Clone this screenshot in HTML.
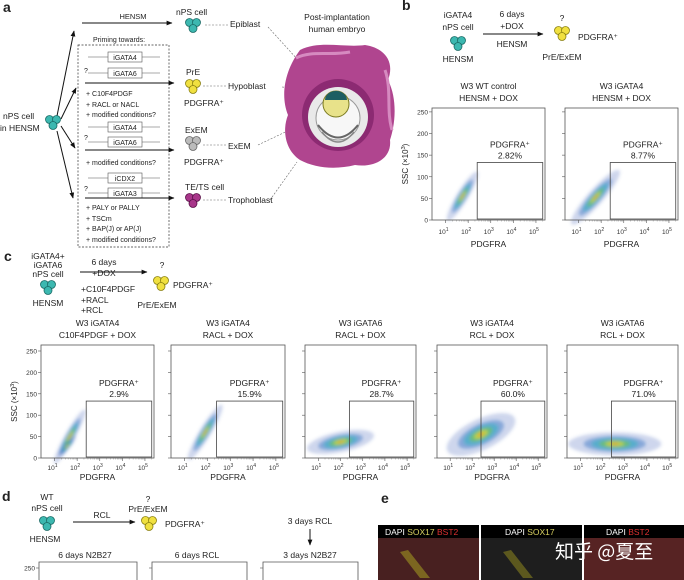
<!DOCTYPE html>
<html><head><meta charset="utf-8"><style>
html,body{margin:0;padding:0;background:#fff;overflow:hidden;width:684px;height:580px;}
svg{display:block;font-family:"Liberation Sans","Noto Sans CJK SC",sans-serif;}
</style></head><body>
<svg id="fig" width="684" height="580" viewBox="0 0 684 580" xmlns="http://www.w3.org/2000/svg">
<defs>
<marker id="ah" viewBox="0 0 10 10" refX="9" refY="5" markerWidth="6" markerHeight="6" orient="auto"><path d="M0,1 L10,5 L0,9 z" fill="#111"/></marker>
<filter id="blur" x="-50%" y="-50%" width="200%" height="200%"><feGaussianBlur stdDeviation="1.6"/></filter>
</defs>

<!-- PANEL A -->
<g font-size="8.5" fill="#222">
<text x="3" y="12" font-size="14" font-weight="bold">a</text>
<text x="133" y="19" text-anchor="middle" font-size="7.5">HENSM</text>
<line x1="82" y1="23" x2="172" y2="23" stroke="#111" marker-end="url(#ah)"/>
<text x="176" y="15">nPS cell</text>
<text x="3" y="119">nPS cell</text>
<text x="0" y="131">in HENSM</text>
<g stroke="#111" marker-end="url(#ah)">
<line x1="57" y1="116" x2="74" y2="31"/><line x1="61" y1="119" x2="76" y2="88"/><line x1="61" y1="126" x2="75" y2="148"/><line x1="57" y1="131" x2="73" y2="198"/>
</g>
<rect x="78" y="45" width="91" height="202" fill="none" stroke="#333" stroke-dasharray="2,1.5" stroke-width="0.7"/>
<text x="93" y="42" font-size="7">Priming towards:</text>
<g font-size="7" stroke-width="0.6">
<g><line x1="88" y1="57" x2="160" y2="57" stroke="#555"/><rect x="108" y="52" width="34" height="10" fill="#fff" stroke="#555"/><text x="125" y="60" text-anchor="middle">iGATA4</text></g>
<g><text x="84" y="73">?</text><line x1="88" y1="73" x2="160" y2="73" stroke="#555"/><rect x="108" y="68" width="34" height="10" fill="#fff" stroke="#555"/><text x="125" y="76" text-anchor="middle">iGATA6</text></g>
<line x1="85" y1="83" x2="174" y2="83" stroke="#111" stroke-width="1" marker-end="url(#ah)"/>
<text x="86" y="96">+ C10F4PDGF</text><text x="86" y="107">+ RACL or NACL</text><text x="86" y="117">+ modified conditions?</text>
<g><line x1="88" y1="127" x2="160" y2="127" stroke="#555"/><rect x="108" y="122" width="34" height="10" fill="#fff" stroke="#555"/><text x="125" y="130" text-anchor="middle">iGATA4</text></g>
<g><text x="84" y="140">?</text><line x1="88" y1="142" x2="160" y2="142" stroke="#555"/><rect x="108" y="137" width="34" height="10" fill="#fff" stroke="#555"/><text x="125" y="145" text-anchor="middle">iGATA6</text></g>
<line x1="85" y1="150" x2="174" y2="150" stroke="#111" stroke-width="1" marker-end="url(#ah)"/>
<text x="86" y="165">+ modified conditions?</text>
<g><line x1="88" y1="178" x2="160" y2="178" stroke="#555"/><rect x="108" y="173" width="34" height="10" fill="#fff" stroke="#555"/><text x="125" y="181" text-anchor="middle">iCDX2</text></g>
<g><text x="84" y="191">?</text><line x1="88" y1="193" x2="160" y2="193" stroke="#555"/><rect x="108" y="188" width="34" height="10" fill="#fff" stroke="#555"/><text x="125" y="196" text-anchor="middle">iGATA3</text></g>
<line x1="85" y1="198" x2="174" y2="198" stroke="#111" stroke-width="1" marker-end="url(#ah)"/>
<text x="86" y="210">+ PALY or PALLY</text><text x="86" y="221">+ TSCm</text><text x="86" y="231">+ BAP(J) or AP(J)</text><text x="86" y="242">+ modified conditions?</text>
</g>
<text x="186" y="75">PrE</text>
<text x="184" y="106">PDGFRA⁺</text>
<text x="185" y="133">ExEM</text>
<text x="184" y="165">PDGFRA⁺</text>
<text x="185" y="190">TE/TS cell</text>
<g stroke="#666" stroke-dasharray="2,1.5" stroke-width="0.6">
<line x1="205" y1="25" x2="228" y2="25"/><line x1="203" y1="86" x2="226" y2="86"/><line x1="203" y1="145" x2="226" y2="145"/><line x1="203" y1="200" x2="226" y2="200"/>
<line x1="268" y1="27" x2="298" y2="60"/><line x1="282" y1="87" x2="322" y2="90"/><line x1="258" y1="145" x2="300" y2="125"/><line x1="270" y1="200" x2="297" y2="162"/>
</g>
<text x="230" y="27">Epiblast</text>
<text x="228" y="89">Hypoblast</text>
<text x="228" y="149">ExEM</text>
<text x="228" y="203">Trophoblast</text>
<text x="337" y="20" text-anchor="middle">Post-implantation</text>
<text x="337" y="32" text-anchor="middle">human embryo</text>
<g>
<path d="M300,50 C320,40 345,48 365,45 C385,48 395,62 388,80 C398,100 395,125 390,140 C392,158 375,168 355,165 C335,170 315,168 300,160 C285,150 282,130 288,115 C280,95 285,70 300,50 z" fill="#b0458f"/>
<path d="M296,58 C312,50 330,56 350,52 M385,70 C392,90 386,110 392,130" stroke="#d68ac0" stroke-width="3" fill="none"/>
<circle cx="338" cy="115" r="36" fill="#8c2a72"/>
<circle cx="338" cy="117" r="30" fill="#e9e9e9"/>
<circle cx="338" cy="118" r="22" fill="#f7f7f7" stroke="#999" stroke-width="1"/>
<path d="M318,125 Q338,150 358,125" stroke="#666" stroke-width="2" fill="none"/>
<path d="M322,132 Q338,152 354,132" stroke="#888" stroke-width="1.5" fill="none"/>
<circle cx="336" cy="104" r="13" fill="#e8e28a" stroke="#7a7a20" stroke-width="1"/>
<path d="M325,100 A11,9 0 0 1 347,100 z" fill="#1d5e62"/>
</g>
</g>

<!-- PANEL B header -->
<g font-size="8.5" fill="#222">
<text x="402" y="10" font-size="14" font-weight="bold">b</text>
<text x="458" y="18" text-anchor="middle">iGATA4</text>
<text x="458" y="30" text-anchor="middle">nPS cell</text>
<text x="458" y="62" text-anchor="middle">HENSM</text>
<text x="512" y="17" text-anchor="middle">6 days</text>
<text x="512" y="29" text-anchor="middle">+DOX</text>
<text x="512" y="47" text-anchor="middle">HENSM</text>
<line x1="483" y1="34" x2="543" y2="34" stroke="#111" marker-end="url(#ah)"/>
<text x="562" y="21" text-anchor="middle">?</text>
<text x="578" y="40">PDGFRA⁺</text>
<text x="562" y="60" text-anchor="middle">PrE/ExEM</text>
</g>

<!-- PANEL C header -->
<g font-size="8.5" fill="#222">
<text x="4" y="261" font-size="14" font-weight="bold">c</text>
<text x="48" y="259" text-anchor="middle">iGATA4+</text>
<text x="48" y="268" text-anchor="middle">iGATA6</text>
<text x="48" y="277" text-anchor="middle">nPS cell</text>
<text x="48" y="306" text-anchor="middle">HENSM</text>
<text x="104" y="265" text-anchor="middle">6 days</text>
<text x="104" y="276" text-anchor="middle">+DOX</text>
<line x1="80" y1="272" x2="147" y2="272" stroke="#111" marker-end="url(#ah)"/>
<text x="81" y="292">+C10F4PDGF</text><text x="81" y="303">+RACL</text><text x="81" y="313">+RCL</text>
<text x="162" y="268" text-anchor="middle">?</text>
<text x="173" y="288">PDGFRA⁺</text>
<text x="157" y="308" text-anchor="middle">PrE/ExEM</text>
</g>

<!-- PANEL D header -->
<g font-size="8.5" fill="#222">
<text x="2" y="501" font-size="14" font-weight="bold">d</text>
<text x="47" y="500" text-anchor="middle">WT</text>
<text x="47" y="511" text-anchor="middle">nPS cell</text>
<text x="45" y="542" text-anchor="middle">HENSM</text>
<text x="102" y="518" text-anchor="middle">RCL</text>
<line x1="73" y1="522" x2="135" y2="522" stroke="#111" marker-end="url(#ah)"/>
<text x="148" y="502" text-anchor="middle">?</text>
<text x="148" y="512" text-anchor="middle">PrE/ExEM</text>
<text x="165" y="527">PDGFRA⁺</text>
<text x="310" y="524" text-anchor="middle">3 days RCL</text>
<line x1="310" y1="529" x2="310" y2="545" stroke="#111" marker-end="url(#ah)"/>
<text x="310" y="558" text-anchor="middle">3 days N2B27</text>
<text x="85" y="558" text-anchor="middle">6 days N2B27</text>
<text x="197" y="558" text-anchor="middle">6 days RCL</text>
</g>

<!-- PANEL E -->
<g>
<text x="381" y="503" font-size="14" font-weight="bold" fill="#222">e</text>
<g><rect x="378" y="525" width="101" height="55" fill="#2e1a1a"/><rect x="378" y="538" width="101" height="42" fill="#5a2424" opacity="0.6"/><rect x="378" y="525" width="101" height="13" fill="#000"/><text x="385" y="535" font-size="8.5" fill="#fff">DAPI <tspan fill="#d8d060">SOX17</tspan> <tspan fill="#e03030">BST2</tspan></text></g>
<g><rect x="481" y="525" width="101" height="55" fill="#1e1e1e"/><rect x="481" y="525" width="101" height="13" fill="#000"/><text x="505" y="535" font-size="8.5" fill="#fff">DAPI <tspan fill="#d8d060">SOX17</tspan></text></g>
<g><rect x="584" y="525" width="100" height="55" fill="#3a1c1c"/><rect x="584" y="538" width="100" height="42" fill="#6a2828" opacity="0.6"/><rect x="584" y="525" width="100" height="13" fill="#000"/><text x="606" y="535" font-size="8.5" fill="#fff">DAPI <tspan fill="#e03030">BST2</tspan></text></g>
<path d="M400,552 L420,578 L430,578 L408,550 z" fill="#a8a020" opacity="0.55"/>
<path d="M503,552 L523,578 L533,578 L511,550 z" fill="#a8a020" opacity="0.45"/>
<text x="555" y="558" font-size="19" fill="#fff" font-family="'Noto Sans CJK SC',sans-serif">知乎 @夏至</text>
</g>

<g id="cells"></g>
<g id="plots"></g>
</svg>

<script>
// ---- data ----
const xTicks = [1, 2, 3, 4, 5];
const yTicks = [0, 50, 100, 150, 200, 250];
const gateLog = 2.4;      // gate left edge, log10 PDGFRA
const gateSSC = 133;      // gate top, SSC x10^3
const gateRightLog = 5.3;
const bTitles = [["W3 WT control", "HENSM + DOX"], ["W3 iGATA4", "HENSM + DOX"]];
const bPercents = ["2.82%", "8.77%"];
const bBlobs = [
  [[1.4, 25, 2.1, 85, 9]],
  [[1.2, 20, 2.3, 85, 12]]
];
const cTitles = [["W3 iGATA4", "C10F4PDGF + DOX"], ["W3 iGATA4", "RACL + DOX"], ["W3 iGATA6", "RACL + DOX"], ["W3 iGATA4", "RCL + DOX"], ["W3 iGATA6", "RCL + DOX"]];
const cPercents = ["2.9%", "15.9%", "28.7%", "60.0%", "71.0%"];
const cBlobs = [
  [[1.3, 15, 2.05, 85, 8], [1.35, 15, 1.75, 40, 5]],
  [[1.5, 25, 2.3, 95, 9]],
  [[1.3, 30, 2.7, 45, 16]],
  [[1.8, 40, 3.0, 70, 24]],
  [[1.5, 33, 3.6, 33, 18]]
];

const NS = "http://www.w3.org/2000/svg";
const FRAME_BOTTOM = 580;
function mk(tag, attrs, parent) {
  const el = document.createElementNS(NS, tag);
  for (const k in attrs) el.setAttribute(k, attrs[k]);
  parent.appendChild(el);
  return el;
}
const plotsG = document.getElementById('plots');
const cellsG = document.getElementById('cells');

function cell(cx, cy, fill, stroke) {
  const g = mk('g', {}, cellsG);
  
  
  [[-3.5, -2.5], [3.5, -2.5], [0, 3.5]].forEach(o => {
    mk('circle', {cx: cx + o[0], cy: cy + o[1], r: 4, fill: fill, stroke: stroke, 'stroke-width': 0.8}, g);
  });
}
cell(193, 25, '#3cb8b0', '#1a6b66');
cell(193, 86, '#f0e040', '#8a8010');
cell(193, 143, '#bbbbbb', '#666');
cell(193, 200, '#a8368a', '#5a1048');
cell(53, 122, '#3cb8b0', '#1a6b66');
cell(458, 43, '#3cb8b0', '#1a6b66');
cell(562, 33, '#f0e040', '#8a8010');
cell(48, 287, '#3cb8b0', '#1a6b66');
cell(161, 283, '#f0e040', '#8a8010');
cell(47, 523, '#3cb8b0', '#1a6b66');
cell(149, 523, '#f0e040', '#8a8010');

const levels = [
  {s: 1.5, c: '#3a5fb8', o: 0.25},
  {s: 1.0, c: '#2f6fc0', o: 0.45},
  {s: 0.75, c: '#2fb0c0', o: 0.55},
  {s: 0.5, c: '#70c450', o: 0.65},
  {s: 0.3, c: '#e6dc30', o: 0.7},
  {s: 0.15, c: '#f08a30', o: 0.6}
];

function plot(cfg) {
  const {left, top, w, h, lo, hi, ymax, title, pct, blobs, showY, showX, xt, xl} = cfg;
  const g = mk('g', {}, plotsG);
  
  
  const X = v => left + (v - lo) / (hi - lo) * w;
  const Y = v => top + h - v / ymax * h;
  const visH = Math.min(h, FRAME_BOTTOM - top);
  if (title) {
    title.forEach((t, i) => {
      const tt = mk('text', {x: left + w / 2, y: top - 19 + i * 12, 'text-anchor': 'middle', 'font-size': 8.5, fill: '#222'}, g);
      tt.textContent = t;
      
      
    });
  }
  const dg = mk('g', {filter: 'url(#blur)'}, g);
  
  
  (blobs || []).forEach(b => {
    const x1 = X(b[0]), y1 = Y(b[1]), x2 = X(b[2]), y2 = Y(b[3]);
    const cx = (x1 + x2) / 2, cy = (y1 + y2) / 2;
    const wpx = b[4] / ymax * h;
    const len = Math.hypot(x2 - x1, y2 - y1) / 2 + wpx;
    const ang = Math.atan2(y2 - y1, x2 - x1) * 180 / Math.PI;
    levels.forEach(L => {
      const e = mk('ellipse', {cx: cx, cy: cy, rx: len * L.s, ry: wpx * L.s, fill: L.c, opacity: L.o, transform: `rotate(${ang} ${cx} ${cy})`}, dg);
      
      
    });
  });
  if (visH < h) {
    const fp = mk('path', {d: `M${left},${top + visH} V${top} H${left + w} V${top + visH}`, fill: 'none', stroke: '#555', 'stroke-width': 0.8}, g);
    
    
  } else {
    const fr = mk('rect', {x: left, y: top, width: w, height: h, fill: 'none', stroke: '#555', 'stroke-width': 0.8}, g);
    
    
  }
  yTicks.forEach(v => {
    if (Y(v) > FRAME_BOTTOM - 1) return;
    mk('line', {x1: left - 3, x2: left, y1: Y(v), y2: Y(v), stroke: '#555', 'stroke-width': 0.6}, g);
    if (showY) {
      const t = mk('text', {x: left - 4, y: Y(v) + 2.5, 'text-anchor': 'end', 'font-size': 6.5, fill: '#333'}, g);
      t.textContent = v;
      
      
    }
  });
  if (showX) {
    xTicks.forEach(v => {
      mk('line', {x1: X(v), x2: X(v), y1: top + h, y2: top + h + 3, stroke: '#555', 'stroke-width': 0.6}, g);
      for (let m = 2; m < 10; m++) {
        const lv = v + Math.log10(m);
        if (lv < hi) mk('line', {x1: X(lv), x2: X(lv), y1: top + h, y2: top + h + 1.5, stroke: '#777', 'stroke-width': 0.4}, g);
      }
      const t = mk('text', {x: X(v) - 2, y: top + h + xt, 'text-anchor': 'middle', 'font-size': 6.5, fill: '#333'}, g);
      t.innerHTML = '10<tspan dy="-3" font-size="5">' + v + '</tspan>';
      
      
    });
    const xlab = mk('text', {x: left + w / 2, y: top + h + xl, 'text-anchor': 'middle', 'font-size': 8.5, fill: '#222'}, g);
    xlab.textContent = 'PDGFRA';
    
    
  }
  if (showY && showX) {
    const cx = left - 24, cy = top + h / 2;
    const yl = mk('text', {x: cx, y: cy, 'text-anchor': 'middle', 'font-size': 8, fill: '#222', transform: `rotate(-90 ${cx} ${cy})`}, g);
    yl.innerHTML = 'SSC (×10<tspan dy="-3" font-size="5.5">3</tspan><tspan dy="3">)</tspan>';
    
    
  }
  if (pct) {
    const gx = X(gateLog), gy = Y(gateSSC), gr = X(gateRightLog);
    const gate = mk('rect', {x: gx, y: gy, width: gr - gx, height: top + h - gy - 1, fill: 'none', stroke: '#444', 'stroke-width': 0.8}, g);
    
    
    const gm = (gx + gr) / 2;
    const l1 = mk('text', {x: gm, y: gy - 15, 'text-anchor': 'middle', 'font-size': 8.5, fill: '#222'}, g);
    l1.textContent = 'PDGFRA⁺';
    
    
    const l2 = mk('text', {x: gm, y: gy - 4, 'text-anchor': 'middle', 'font-size': 8.5, fill: '#222'}, g);
    l2.textContent = pct;
    
    
  }
}

// panel b
[432, 565].forEach((L, i) => {
  plot({left: L, top: 108, w: 113, h: 112, lo: 0.4, hi: 5.4, ymax: 259, title: bTitles[i], pct: bPercents[i], blobs: bBlobs[i], showY: i === 0, showX: true, xt: 14, xl: 27});
});
// panel c
[[41, 113], [171, 114], [305, 111], [437, 110], [567, 111]].forEach((p, i) => {
  plot({left: p[0], top: 345, w: p[1], h: 113, lo: 0.4, hi: 5.4, ymax: 264, title: cTitles[i], pct: cPercents[i], blobs: cBlobs[i], showY: i === 0, showX: true, xt: 12, xl: 22});
});
// panel d (only top visible; frame cut at page bottom)
[[39, 98], [152, 95], [263, 95]].forEach((p, i) => {
  plot({left: p[0], top: 562, w: p[1], h: 113, lo: 0.4, hi: 5.4, ymax: 264, title: null, pct: null, blobs: [], showY: i === 0, showX: false, xt: 12, xl: 22});
});
</script>
</body></html>
